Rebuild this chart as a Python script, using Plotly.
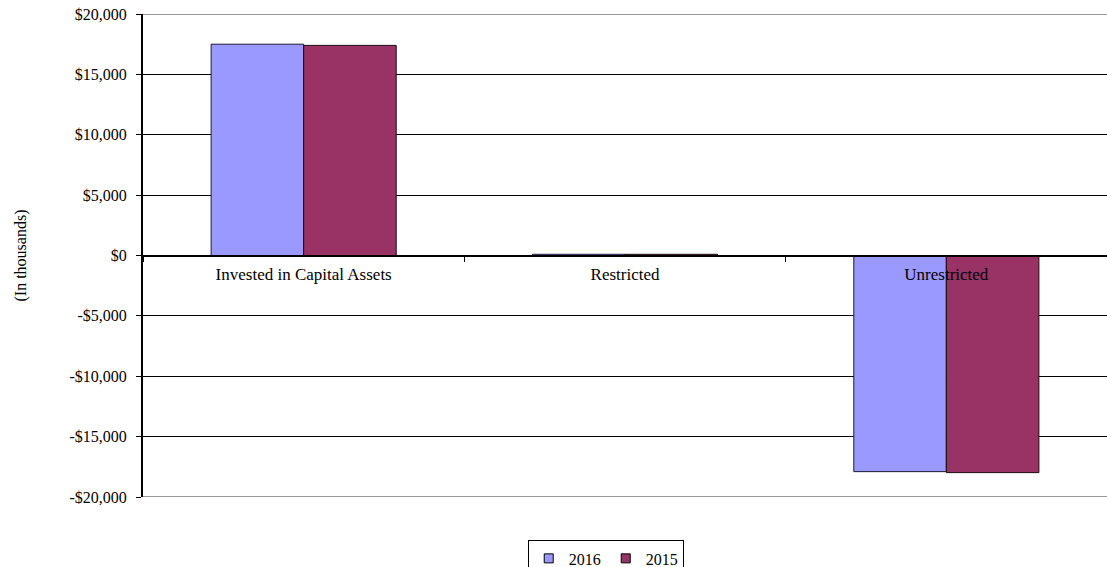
import plotly.graph_objects as go

categories = ["Invested in Capital Assets", "Restricted", "Unrestricted"]
values_2016 = [17500, 100, -17900]
values_2015 = [17400, 100, -17980]
y_ticks = [-20000, -15000, -10000, -5000, 0, 5000, 10000, 15000, 20000]
y_tick_labels = ["-$20,000", "-$15,000", "-$10,000", "-$5,000", "$0", "$5,000", "$10,000", "$15,000", "$20,000"]

font = dict(family="Liberation Serif, Times New Roman, serif", size=16, color="#000")
xfont = dict(family="Liberation Serif, Times New Roman, serif", size=17, color="#000")
c2016 = "#9999FF"
c2015 = "#993366"

fig = go.Figure()
fig.add_trace(go.Bar(name="2016", x=categories, y=values_2016, showlegend=False,
                     marker=dict(color=c2016, line=dict(color="#1a1a33", width=1))))
fig.add_trace(go.Bar(name="2015", x=categories, y=values_2015, showlegend=False,
                     marker=dict(color=c2015, line=dict(color="#1a0a10", width=1))))
# legend entries
fig.add_trace(go.Scatter(name="2016", x=[None], y=[None], mode="markers",
                         marker=dict(symbol="square", size=9, color=c2016, line=dict(color="#000", width=1))))
fig.add_trace(go.Scatter(name="2015", x=[None], y=[None], mode="markers",
                         marker=dict(symbol="square", size=9, color=c2015, line=dict(color="#000", width=1))))

fig.update_layout(
    width=1107, height=567,
    margin=dict(l=143, r=0, t=14, b=70, autoexpand=False),
    paper_bgcolor="white", plot_bgcolor="white",
    font=font,
    barmode="group", bargap=0.424, bargroupgap=0,
    showlegend=True,
    legend=dict(orientation="h", x=0.48, xanchor="center", xref="paper", y=-0.09, yanchor="top",
                bordercolor="#000", borderwidth=1, font=font, itemwidth=30,
                tracegroupgap=0),
    xaxis=dict(anchor="free", position=0.5, showline=True, linecolor="#000", linewidth=2,
               ticks="outside", tickson="boundaries", ticklen=5, tickcolor="#000",
               showgrid=False, tickfont=xfont, zeroline=False, ticklabelstandoff=3),
    yaxis=dict(range=[-20000, 20000], tickvals=y_ticks, ticktext=y_tick_labels,
               showline=True, linecolor="#000", linewidth=2, ticks="outside", ticklen=5,
               tickcolor="#000", showgrid=True, gridcolor="#000", gridwidth=1,
               zeroline=False, tickfont=font, ticklabelstandoff=6,
               title=dict(text="(In thousands)", font=font, standoff=39)),
)
fig.add_shape(type="line", xref="paper", yref="y", x0=0, x1=1, y0=20000, y1=20000, line=dict(color="#999", width=2))
fig.add_shape(type="line", xref="paper", yref="y", x0=0, x1=1, y0=-20000, y1=-20000, line=dict(color="#999", width=2))

fig.write_html("out.html")
